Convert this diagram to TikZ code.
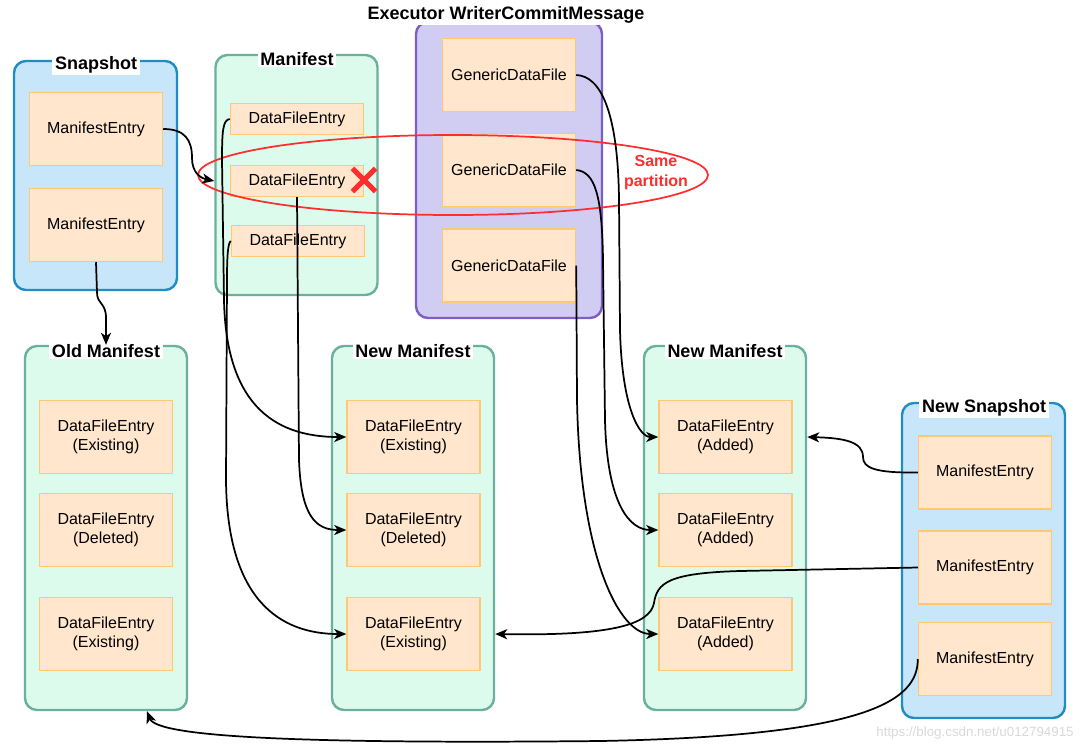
\documentclass[tikz,border=0pt]{standalone}
\usepackage{fontspec}
\setmainfont{Liberation Sans}
\usepackage{tikz}
\usetikzlibrary{shapes.geometric, shapes.misc, arrows.meta, positioning, calc}
\usepackage{xcolor}

\definecolor{entryfill}{HTML}{FFE6CC}
\definecolor{entryline}{HTML}{FFC875}
\definecolor{snapfill}{HTML}{C8E6FA}
\definecolor{snapline}{HTML}{1D8DC4}
\definecolor{manfill}{HTML}{DCFBEC}
\definecolor{manline}{HTML}{6BB09E}
\definecolor{execfill}{HTML}{D0CCF2}
\definecolor{execline}{HTML}{7C5EC4}
\definecolor{partred}{HTML}{FF2D2D}
\newcommand{\pxu}{0.75pt}

\begin{document}
\begin{tikzpicture}[x=\pxu, y=-\pxu, >={Stealth[length=9pt, width=7.5pt, inset=2.5pt]},
            snapbox/.style={rectangle, draw=snapline, fill=snapfill, line width=1.8pt, rounded corners=9pt, minimum width=163*\pxu},
            manbox/.style={rectangle, draw=manline, fill=manfill, line width=1.8pt, rounded corners=9pt, minimum width=162*\pxu},
            execbox/.style={rectangle, draw=execline, fill=execfill, line width=1.8pt, rounded corners=9pt, minimum width=186*\pxu, minimum height=296*\pxu},
            entry/.style={rectangle, draw=entryline, fill=entryfill, line width=1.1pt, inner sep=0pt, minimum width=133*\pxu, minimum height=73*\pxu, align=center, font=\fontsize{12}{14.5}\selectfont},
            smallentry/.style={entry, minimum height=31*\pxu},
            title/.style={fill=white, inner xsep=2pt, inner ysep=1pt, font=\bfseries\fontsize{13.5}{16}\selectfont},
            conn/.style={->, line width=1.3pt}]

        \useasboundingbox (0,0) rectangle (1080,747);

        % containers
        \node [snapbox, minimum height=229*\pxu] (snap) at (95.5,175.5) {};
        \node [manbox, minimum height=240*\pxu] (man) at (296.5,175) {};
        \node [execbox] (exec) at (509,170) {};
        \node [manbox, minimum height=364*\pxu] (oldman) at (106,528) {};
        \node [manbox, minimum height=364*\pxu] (nman) at (413,528) {};
        \node [manbox, minimum height=364*\pxu] (aman) at (725,528) {};
        \node [snapbox, minimum height=315*\pxu] (nsnap) at (983.5,560.5) {};

        % titles
        \node [title] (snaptitle) at (96,65) {Snapshot};
        \node [title] (mantitle) at (297,59) {Manifest};
        \node [title] (exectitle) at (506,15) {Executor WriterCommitMessage};
        \node [title] (oldtitle) at (106,351) {Old Manifest};
        \node [title] (nmantitle) at (413,351) {New Manifest};
        \node [title] (amantitle) at (725,351) {New Manifest};
        \node [title] (nsnaptitle) at (984,408) {New Snapshot};

        % entries
        \node [entry] (snme1) at (96,129) {ManifestEntry};
        \node [entry] (snme2) at (96,225) {ManifestEntry};

        \node [smallentry] (mdfe1) at (297,119) {DataFileEntry};
        \node [smallentry] (mdfe2) at (297,181) {DataFileEntry};
        \node [smallentry] (mdfe3) at (298,241) {DataFileEntry};

        \node [entry] (gdf1) at (509,75) {GenericDataFile};
        \node [entry] (gdf2) at (509,170) {GenericDataFile};
        \node [entry] (gdf3) at (509,265.5) {GenericDataFile};

        \node [entry] (oma) at (106,437) {DataFileEntry\\(Existing)};
        \node [entry] (omb) at (106,530) {DataFileEntry\\(Deleted)};
        \node [entry] (omc) at (106,634) {DataFileEntry\\(Existing)};

        \node [entry] (nma) at (413.5,437) {DataFileEntry\\(Existing)};
        \node [entry] (nmb) at (413.5,530) {DataFileEntry\\(Deleted)};
        \node [entry] (nmc) at (413.5,634) {DataFileEntry\\(Existing)};

        \node [entry] (ama) at (725.5,437) {DataFileEntry\\(Added)};
        \node [entry] (amb) at (725.5,530) {DataFileEntry\\(Added)};
        \node [entry] (amc) at (725.5,634) {DataFileEntry\\(Added)};

        \node [entry] (nsme1) at (985,472.5) {ManifestEntry};
        \node [entry] (nsme2) at (985,567.5) {ManifestEntry};
        \node [entry] (nsme3) at (985,659) {ManifestEntry};

        % same partition mark
        \node [ellipse, draw=partred, line width=1.3pt, inner sep=0pt, minimum width=510*\pxu, minimum height=80*\pxu] (part) at (453,175) {};
        \node [text=partred, align=center, font=\bfseries\fontsize{12}{15}\selectfont] (partlabel) at (656,173) {Same\\partition};
        \node [cross out, draw=partred, line width=3.8pt, inner sep=0pt, minimum size=18*\pxu] (gone) at (364,180) {};

        % Snapshot to Manifest
        \draw[conn] (snme1.east) .. controls (185,129) and (192,140) .. (192,158) .. controls (192,172) and (200,178) .. (man.west |- mdfe2.west);

        % Snapshot to Old Manifest
        \draw[conn] (snme2.south) -- (97,292) .. controls (97,305) and (106,302) .. (106,318) -- (oldman.north);

        % Manifest to New Manifest
        \draw[conn] (mdfe1.west) .. controls (223,120) and (222,130) .. (222,160) -- (224,300) .. controls (226,400) and (270,437) .. (nma.west);
        \draw[conn] (mdfe2.south) -- (299,460) .. controls (301,515) and (315,530) .. (nmb.west);
        \draw[conn] (mdfe3.west) .. controls (228,243) and (227,255) .. (227,280) -- (226,480) .. controls (227,600) and (280,634) .. (nmc.west);

        % Executor to New Manifest
        \draw[conn] (gdf1.east) .. controls (600,76) and (618,110) .. (619,200) -- (620,330) .. controls (622,410) and (640,437) .. (ama.west);
        \draw[conn] (gdf2.east) .. controls (595,172) and (602,195) .. (603,260) -- (605,420) .. controls (607,505) and (630,530) .. (amb.west);
        \draw[conn] (gdf3.east) -- (577,400) .. controls (580,560) and (620,634) .. (amc.west);

        % New Snapshot to manifests
        \draw[conn] (nsme1.west) .. controls (875,473) and (863,468) .. (863,457) .. controls (863,442) and (845,438) .. (aman.east |- ama.east);
        \draw[conn] (nsme2.west) -- (740,571) .. controls (668,573) and (657,583) .. (654,603) .. controls (650,625) and (610,636) .. (nman.east |- nmc.east);
        \draw[conn] (nsme3.west) .. controls (918,700) and (870,736) .. (600,741) .. controls (300,744) and (157,737) .. ($(oldman.south)+(41,0)$);

        \node [text=black!15, font=\fontsize{10}{12}\selectfont] (mark) at (975,733) {https://blog.csdn.net/u012794915};

    \end{tikzpicture}
\end{document}
